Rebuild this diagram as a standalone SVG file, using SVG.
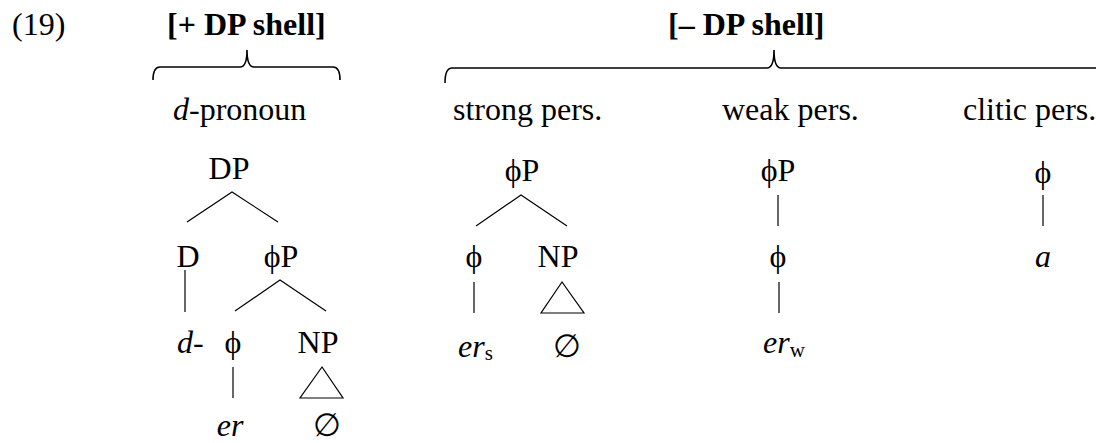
<svg xmlns="http://www.w3.org/2000/svg" width="1096" height="443" viewBox="0 0 1096 443">
  <style>
    text { font-family: "Liberation Serif", "Times New Roman", "DejaVu Serif", serif; font-size: 32px; fill: #000; }
    .b { font-weight: bold; }
    .i { font-style: italic; }
    .m { text-anchor: middle; }
    .sub { font-size: 21px; font-style: normal; }
    .brace { fill: none; stroke: #000; stroke-width: 1.6; }
    .edge { fill: none; stroke: #000; stroke-width: 1.2; }
  </style>
  <rect width="1096" height="443" fill="#fff"/>

  <!-- example number and feature headings -->
  <g id="heading">
    <text x="12" y="35">(19)</text>
    <text class="b" x="167" y="35">[+ DP shell]</text>
    <text class="b" x="668" y="35">[– DP shell]</text>
  </g>

  <!-- braces grouping the pronoun classes -->
  <g id="braces">
    <path class="brace" d="M153,80 Q153,67 160,67 H240 Q247,67 247,50 Q247,67 254,67 H333 Q340,67 340,80"/>
    <path class="brace" d="M445,83 Q445,68 452,68 H767 Q774,68 774,50 Q774,68 781,68 H1100"/>
  </g>

  <!-- class labels -->
  <g id="labels">
    <text x="173" y="120"><tspan class="i">d</tspan>-pronoun</text>
    <text x="453" y="120">strong pers.</text>
    <text x="722" y="120">weak pers.</text>
    <text x="963" y="120">clitic pers.</text>
  </g>

  <!-- tree nodes -->
  <g id="dpron-DP"><text class="m" x="229" y="179">DP</text></g>
  <g id="dpron-D"><text class="m" x="188" y="267">D</text></g>
  <g id="dpron-phiP"><text class="m" x="281" y="267">ϕP</text></g>
  <g id="dpron-d"><text class="i" x="177" y="353">d-</text></g>
  <g id="dpron-phi"><text class="m" x="233" y="353">ϕ</text></g>
  <g id="dpron-NP"><text class="m" x="318" y="353">NP</text></g>
  <g id="dpron-er"><text class="m i" x="230" y="436">er</text></g>
  <g id="dpron-empty"><text class="m" x="327" y="436">∅</text></g>

  <g id="strong-phiP"><text class="m" x="522" y="181">ϕP</text></g>
  <g id="strong-phi"><text class="m" x="474" y="267">ϕ</text></g>
  <g id="strong-NP"><text class="m" x="558" y="267">NP</text></g>
  <g id="strong-er"><text class="i" x="458" y="357">er<tspan class="sub" dy="3">s</tspan></text></g>
  <g id="strong-empty"><text class="m" x="567" y="357">∅</text></g>

  <g id="weak-phiP"><text class="m" x="778" y="181">ϕP</text></g>
  <g id="weak-phi"><text class="m" x="778" y="267">ϕ</text></g>
  <g id="weak-er"><text class="i" x="763" y="353">er<tspan class="sub" dy="4">w</tspan></text></g>

  <g id="clitic-phi"><text class="m" x="1043" y="183">ϕ</text></g>
  <g id="clitic-a"><text class="m i" x="1043" y="267">a</text></g>

  <!-- branches and triangles -->
  <g id="connectors">
    <path class="edge" d="M187,222 L232,192 L278,222"/>
    <path class="edge" d="M185,270 V312"/>
    <path class="edge" d="M235,311 L280,280 L326,311"/>
    <path class="edge" d="M233,367 V398"/>
    <path class="edge" d="M322,367 L300,398 H343 Z"/>

    <path class="edge" d="M476,226 L521,195 L567,226"/>
    <path class="edge" d="M474,282 V313"/>
    <path class="edge" d="M562,282 L541,313 H584 Z"/>

    <path class="edge" d="M778,195 V226"/>
    <path class="edge" d="M779,282 V313"/>

    <path class="edge" d="M1043,195 V226"/>
  </g>
</svg>
